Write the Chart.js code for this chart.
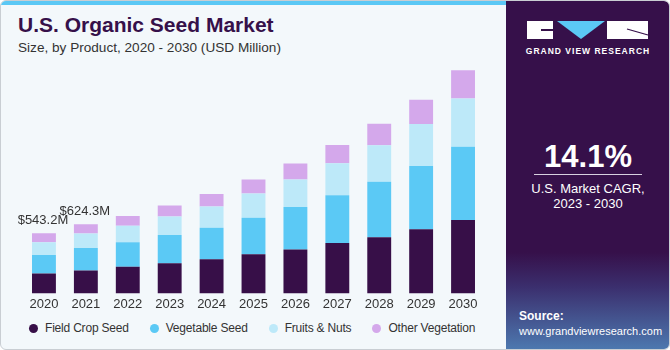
<!DOCTYPE html>
<html>
<head>
<meta charset="utf-8">
<script src="https://cdn.jsdelivr.net/npm/chart.js@4.4.0/dist/chart.umd.min.js"></script>
<style>
  body { margin: 0; width: 670px; height: 350px; overflow: hidden; background: #fff; font-family: "Liberation Sans", Arial, sans-serif; }
  .card { position: absolute; left: 0; top: 0; width: 668px; height: 348px; border: 1px solid #c9ced3; border-radius: 6px; background: #f3f8fb; overflow: hidden; }
  .strip { position: absolute; left: 0; top: 0; width: 506px; height: 4px; background: #5bc8f5; }
  .title { position: absolute; left: 17px; top: 12px; font-size: 21px; font-weight: bold; color: #36104a; }
  .sub { position: absolute; left: 17px; top: 39px; font-size: 13.6px; color: #333; }
  .chart-box { position: absolute; left: 0; top: 55px; width: 500px; height: 259px; }
  #legend { position: absolute; left: 28px; top: 320px; display: flex; font-size: 12px; letter-spacing: -0.2px; color: #333; }
  #legend span.item { display: flex; align-items: center; margin-right: 21px; }
  #legend span.dot { width: 9px; height: 9px; border-radius: 50%; margin-right: 7px; }
  .side { position: absolute; left: 505px; top: 0; width: 164px; height: 349px; border-radius: 0 6px 6px 0;
    background: linear-gradient(180deg, #36104a 0%, #36104a 72%, #3b2f6e 82%, #4d79b0 100%); color: #fff; text-align: center; }
  .logo { position: absolute; left: 21px; top: 20px; }
  .gvr { position: absolute; left: 0; width: 164px; top: 45px; font-size: 8.5px; font-weight: bold; letter-spacing: 1px; }
  .cagr { position: absolute; left: 0; width: 164px; top: 138px; font-size: 31px; font-weight: bold; }
  .rule { position: absolute; left: 28px; width: 108px; top: 173px; height: 1px; background: #d8d0e0; }
  .cagr-txt { position: absolute; left: 0; width: 164px; top: 180px; font-size: 13px; line-height: 15px; }
  .src { position: absolute; left: 13px; top: 308px; font-size: 11px; text-align: left; line-height: 15px; }
</style>
</head>
<body>
<div class="card">
  <div class="strip"></div>
  <div class="title">U.S. Organic Seed Market</div>
  <div class="sub">Size, by Product, 2020 - 2030 (USD Million)</div>
  <div class="chart-box"><canvas id="seedChart"></canvas></div>
  <div id="legend"></div>
  <div class="side">
    <svg class="logo" width="122" height="18" viewBox="0 0 122 18">
      <rect x="0" y="0" width="26" height="18" fill="#fff"/>
      <rect x="14" y="8" width="12" height="2" fill="#36104a"/>
      <polygon points="30,0 78,0 54,18" fill="#5bc8f5"/>
      <rect x="80" y="0" width="41" height="18" fill="#fff"/>
      <line x1="100" y1="8" x2="121" y2="14" stroke="#36104a" stroke-width="1.2"/>
    </svg>
    <div class="gvr">GRAND VIEW RESEARCH</div>
    <div class="cagr">14.1%</div>
    <div class="rule"></div>
    <div class="cagr-txt">U.S. Market CAGR,<br>2023 - 2030</div>
    <div class="src"><b style="font-size:12px">Source:</b><br>www.grandviewresearch.com</div>
  </div>
</div>
<script>
const years = ['2020', '2021', '2022', '2023', '2024', '2025', '2026', '2027', '2028', '2029', '2030'];
const fieldCrop = [180, 207, 240, 273, 309, 354, 396, 456, 507, 579, 663];
const vegetable = [168, 203, 222, 255, 285, 330, 384, 432, 501, 573, 663];
const fruitsNuts = [114, 132, 150, 168, 192, 219, 249, 288, 330, 378, 435];
const otherVeg = [81.2, 82.3, 87, 99, 112, 126, 144, 166, 195, 219, 256];
const labelYears = ['2020', '2021'];

// totals above the first two bars
const totalLabels = {
  id: 'totalLabels',
  afterDatasetsDraw(chart) {
    const { ctx, scales: { x, y } } = chart;
    ctx.save();
    ctx.font = '13px "Liberation Sans", Arial, sans-serif';
    ctx.fillStyle = '#333';
    ctx.textAlign = 'center';
    ctx.textBaseline = 'bottom';
    labelYears.forEach(yr => {
      const i = years.indexOf(yr);
      const total = fieldCrop[i] + vegetable[i] + fruitsNuts[i] + otherVeg[i];
      ctx.fillText('$' + total.toFixed(1) + 'M', x.getPixelForValue(i) - 1, y.getPixelForValue(total) - 6);
    });
    ctx.restore();
  }
};

const mk = (label, data, color) => ({
  label, data, backgroundColor: color, borderColor: color,
  barPercentage: 0.6, categoryPercentage: 0.95,
  borderRadius: 0
});

const chart = new Chart(document.getElementById('seedChart'), {
  type: 'bar',
  data: {
    labels: years,
    datasets: [
      mk('Field Crop Seed', fieldCrop, '#370f48'),
      mk('Vegetable Seed', vegetable, '#5bc9f5'),
      mk('Fruits & Nuts', fruitsNuts, '#bde9f9'),
      mk('Other Vegetation', otherVeg, '#d4a8eb')
    ]
  },
  options: {
    responsive: true,
    maintainAspectRatio: false,
    animation: false,
    layout: { padding: { left: 22, right: 17, top: 5, bottom: 0 } },
    scales: {
      x: {
        stacked: true,
        grid: { display: false, drawTicks: false },
        border: { display: false },
        ticks: { color: '#333', font: { size: 13, family: '"Liberation Sans", Arial, sans-serif' }, padding: 3 }
      },
      y: { stacked: true, display: false, min: 0, max: 2100 }
    },
    plugins: {
      tooltip: { enabled: false },
      legend: { display: false }
    }
  },
  plugins: [totalLabels]
});

// legend in html, one row
document.getElementById('legend').innerHTML = chart.data.datasets.map(d => `
  <span class="item"><span class="dot" style="background:${d.backgroundColor}"></span>${d.label}</span>
`).join('');
</script>
</body>
</html>
